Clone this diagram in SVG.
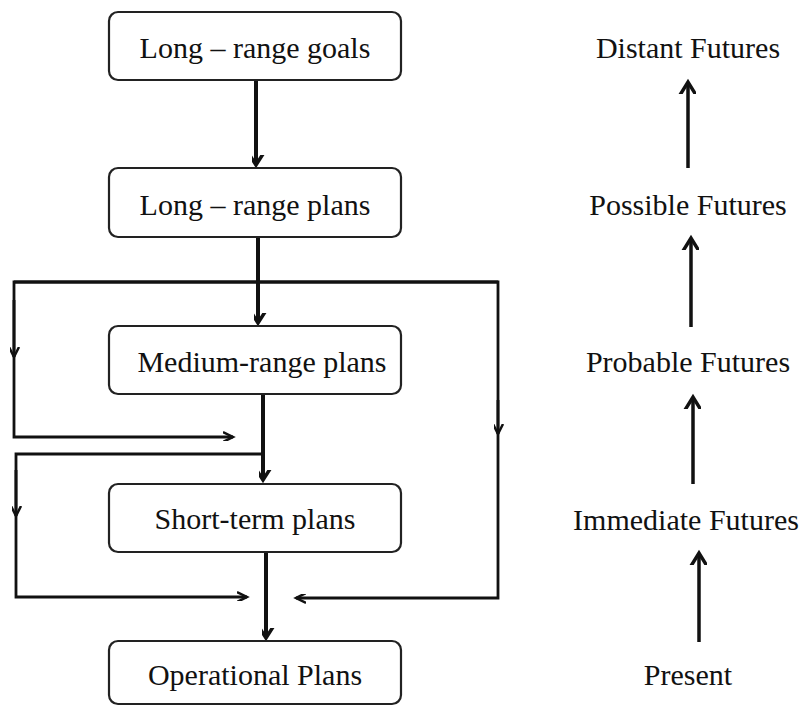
<svg xmlns="http://www.w3.org/2000/svg" width="804" height="706" viewBox="0 0 804 706">
<style>
.box{fill:#fff;stroke:#222;stroke-width:2.2}
.t{font-family:'Liberation Serif', Tinos, 'Times New Roman', Times, 'DejaVu Serif', serif;font-size:30px;fill:#111;text-anchor:middle}
.main{stroke:#111;stroke-width:4;fill:none}
.fb{stroke:#111;stroke-width:2.8;fill:none}
.up{stroke:#111;stroke-width:3.5;fill:none}
</style>
<defs>
<marker id="vbig" markerUnits="userSpaceOnUse" viewBox="-10 -10 20 14" refX="0" refY="0" markerWidth="20" markerHeight="14" orient="auto">
<path d="M-7,-11 L0,0 L7,-11" fill="none" stroke="#111" stroke-width="3.5" transform="rotate(-90)"/>
</marker>
<marker id="vsm" markerUnits="userSpaceOnUse" viewBox="-10 -10 20 14" refX="0" refY="0" markerWidth="20" markerHeight="14" orient="auto">
<path d="M-5,-10 L0,0 L5,-10" fill="none" stroke="#111" stroke-width="2.5" transform="rotate(-90)"/>
</marker>
<marker id="upm" markerUnits="userSpaceOnUse" viewBox="-12 -12 24 20" refX="0" refY="0" markerWidth="24" markerHeight="20" orient="auto">
<path d="M-8,-13 L0,0 L8,-13" fill="none" stroke="#111" stroke-width="3.5" transform="rotate(-90)"/>
</marker>
</defs>
<g id="connectors">
<line class="main" x1="256" y1="80" x2="256" y2="165" marker-end="url(#vbig)"/>
<line class="main" x1="258" y1="237" x2="258" y2="323" marker-end="url(#vbig)"/>
<line class="main" x1="263" y1="394" x2="263" y2="480" marker-end="url(#vbig)"/>
<line class="main" x1="266" y1="552" x2="266" y2="638" marker-end="url(#vbig)"/>
<polyline class="fb" points="498,282 14,282 14,437 233,437" marker-end="url(#vsm)"/>
<line class="fb" x1="14" y1="300" x2="14" y2="357" marker-end="url(#vsm)"/>
<polyline class="fb" points="14,282 498,282 498,598 296,598" marker-end="url(#vsm)"/>
<line class="fb" x1="498" y1="400" x2="498" y2="434" marker-end="url(#vsm)"/>
<polyline class="fb" points="263,454 16,454 16,597 247,597" marker-end="url(#vsm)"/>
<line class="fb" x1="16" y1="470" x2="16" y2="516" marker-end="url(#vsm)"/>
<line class="up" x1="688" y1="168" x2="688" y2="82" marker-end="url(#upm)"/>
<line class="up" x1="691" y1="327" x2="691" y2="238" marker-end="url(#upm)"/>
<line class="up" x1="693" y1="484" x2="693" y2="397" marker-end="url(#upm)"/>
<line class="up" x1="699" y1="642" x2="699" y2="553" marker-end="url(#upm)"/>
</g>
<g id="n1"><rect class="box" x="109" y="12" width="292" height="68" rx="9"/><text class="t" x="255" y="58">Long – range goals</text></g>
<g id="n2"><rect class="box" x="109" y="168" width="292" height="69" rx="9"/><text class="t" x="255" y="215">Long – range plans</text></g>
<g id="n3"><rect class="box" x="109" y="326" width="292" height="68" rx="9"/><text class="t" x="262" y="372">Medium-range plans</text></g>
<g id="n4"><rect class="box" x="109" y="484" width="292" height="68" rx="9"/><text class="t" x="255" y="529">Short-term plans</text></g>
<g id="n5"><rect class="box" x="109" y="641" width="292" height="63" rx="9"/><text class="t" x="255" y="685">Operational Plans</text></g>
<g id="f1"><text class="t" x="688" y="58">Distant Futures</text></g>
<g id="f2"><text class="t" x="688" y="215">Possible Futures</text></g>
<g id="f3"><text class="t" x="688" y="372">Probable Futures</text></g>
<g id="f4"><text class="t" x="686" y="530">Immediate Futures</text></g>
<g id="f5"><text class="t" x="688" y="685">Present</text></g>
</svg>
